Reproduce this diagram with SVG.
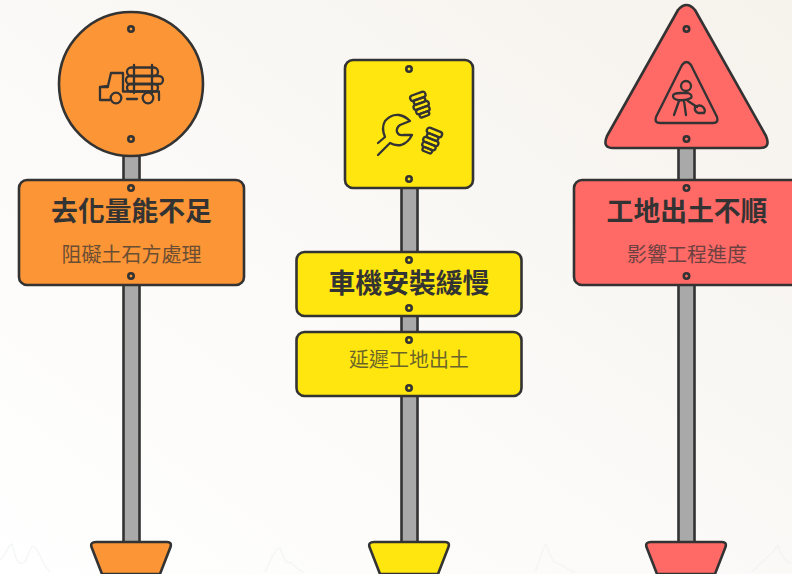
<svg xmlns="http://www.w3.org/2000/svg" width="792" height="574" viewBox="0 0 792 574">
<style>
.s{stroke:#333;stroke-width:2.6;stroke-linejoin:round}
.o{fill:#FC9535}.y{fill:#FFE60F}.r{fill:#FF6966}
.post{fill:#A9A9A9;stroke:#333;stroke-width:2.6}
.b{fill:none;stroke:#333;stroke-width:2.600}
.i{fill:none;stroke:#333;stroke-width:2.3;stroke-linecap:round;stroke-linejoin:round}
.g{fill:none;stroke:#eef1f2;stroke-width:1.5;opacity:.6}
text{font-family:"Noto Sans CJK TC","Noto Sans CJK SC",sans-serif;text-anchor:middle;fill:#333}
.t{font-size:26.800px;font-weight:700}
.u{font-size:20px;opacity:.72}
</style>
<defs>
<linearGradient id="bg" x1="1" y1="0" x2="0" y2="1"><stop offset="0" stop-color="#F6F2EC"/><stop offset=".55" stop-color="#FBFAF8"/><stop offset="1" stop-color="#FFFFFF"/></linearGradient>
<circle id="bolt" r="2.700" class="b"/>
</defs>
<rect width="792" height="574" fill="url(#bg)"/>
<g id="grass">
<path class="g" d="M0 560C6 555 8 545 12 544C15 555 17 565 22 563C26 566 30 545 33 546C38 546 42 565 50 572"/>
<path class="g" d="M265 572C270 560 276 548 280 548C284 558 286 565 290 562C294 565 300 572 304 572"/>
<path class="g" d="M535 572C540 560 544 545 546 544C550 555 552 562 558 564C565 566 570 572 575 572"/>
<path class="g" d="M752 572C758 565 772 555 778 545C781 555 785 562 792 564"/>
</g>
<g id="sign-orange">
<rect class="post" x="123.500" y="150" width="16" height="393"/>
<path class="s o" d="M96 542H167Q172 542 170.500 547L160 574H102L91.500 547Q90 542 96 542Z"/>
<circle class="s o" cx="131" cy="84" r="72"/>
<use href="#bolt" x="131" y="29"/><use href="#bolt" x="131" y="139"/>
<g class="i">
<path d="M110 100H100V87L108 86L111 73H123V91M100 87H108"/>
<rect x="127" y="67.500" width="31" height="8.500" rx="4.200"/>
<rect x="126" y="76" width="37" height="8" rx="4"/>
<rect x="127" y="84" width="31" height="7.500" rx="3.700"/>
<path d="M123 91.500H159M134 65V93M152 65V93M127 99H137M159 93V100"/>
<circle cx="116" cy="98" r="5.300"/><circle cx="148" cy="98" r="5.300"/>
</g>
<rect class="s o" x="19" y="180" width="225" height="105" rx="8"/>
<use href="#bolt" x="131" y="188"/><use href="#bolt" x="131" y="276"/>
<text class="t" x="131.500" y="221">去化量能不足</text>
<text class="u" x="131.500" y="262">阻礙土石方處理</text>
</g>
<g id="sign-yellow">
<rect class="post" x="401.500" y="185" width="16" height="358"/>
<path class="s y" d="M374 542H445Q450 542 448.500 547L438 574H380L369.500 547Q368 542 374 542Z"/>
<rect class="s y" x="345" y="60" width="128" height="128" rx="8"/>
<use href="#bolt" x="409" y="69"/><use href="#bolt" x="409" y="179"/>
<g class="i">
<path d="M378 143L385 137Q381 128 385 121Q391 114 399 115Q405 116 410 121L400 125Q396 128 397 132Q399 136 403 135L412 135Q408 143 401 145Q395 146 390 143L378 155"/>
<g transform="rotate(-20 421 105)">
<rect x="413" y="93" width="16" height="5.500" rx="2.700"/>
<rect x="415" y="98.500" width="12" height="4.500" rx="2.200"/>
<rect x="413" y="103" width="16" height="5" rx="2.500"/>
<rect x="414" y="108" width="14" height="5" rx="2.500"/>
<rect x="416" y="113" width="10" height="4" rx="2"/>
</g>
<g transform="rotate(22 431 141)">
<rect x="423" y="129" width="16" height="5.500" rx="2.700"/>
<rect x="425" y="134.500" width="12" height="4.500" rx="2.200"/>
<rect x="423" y="139" width="16" height="5" rx="2.500"/>
<rect x="424" y="144" width="14" height="5" rx="2.500"/>
<rect x="426" y="149" width="10" height="4" rx="2"/>
</g>
</g>
<rect class="s y" x="296.500" y="252" width="225" height="64" rx="8"/>
<use href="#bolt" x="409" y="260"/><use href="#bolt" x="409" y="308"/>
<text class="t" x="409" y="293">車機安裝緩慢</text>
<rect class="s y" x="296.500" y="332" width="225" height="64" rx="8"/>
<use href="#bolt" x="409" y="340"/><use href="#bolt" x="409" y="388"/>
<text class="u" x="409" y="367">延遲工地出土</text>
</g>
<g id="sign-red">
<rect class="post" x="678.500" y="145" width="16" height="398"/>
<path class="s r" d="M651 542H722Q727 542 725.500 547L715 574H657L646.500 547Q645 542 651 542Z"/>
<path class="s r" d="M678 10Q686.500 0 695 10L766 136Q771 148 760 148H613Q602 148 607 136Z"/>
<use href="#bolt" x="686.500" y="29"/><use href="#bolt" x="686.500" y="139"/>
<path class="i" d="M682 65Q686.500 59 691 65L717 117Q719 123 713 123H660Q654 123 656 117Z"/>
<g class="i">
<circle cx="686" cy="86" r="5"/>
<path d="M673 96Q673 93 681 93H688Q693 95 691 98Q686 101 678 100Q673 99 673 96ZM679 101L674 115M684 101L686 115M688 101L697 107"/>
<path d="M695 107Q700 104 703 107Q706 110 704 113H698Q694 111 695 107Z"/>
</g>
<rect class="s r" x="574" y="180" width="225" height="105" rx="8"/>
<use href="#bolt" x="686.500" y="188"/><use href="#bolt" x="686.500" y="276"/>
<text class="t" x="687" y="221">工地出土不順</text>
<text class="u" x="687" y="262">影響工程進度</text>
</g>
</svg>
